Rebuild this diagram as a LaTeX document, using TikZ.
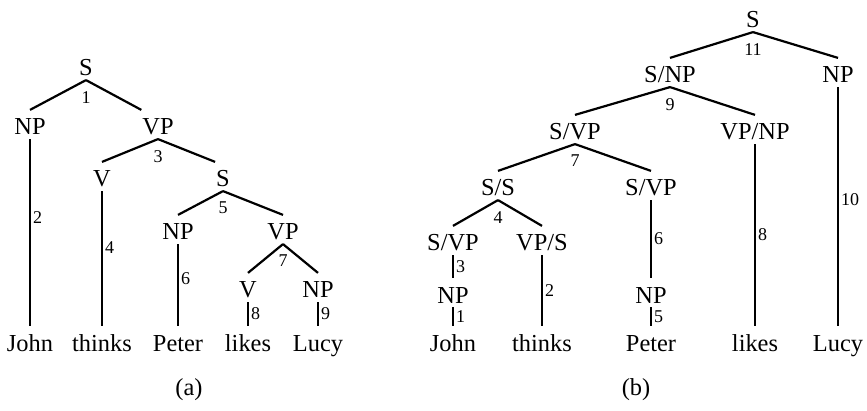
\documentclass[tikz,border=0pt]{standalone}
\usepackage{fontspec}
\setmainfont{Liberation Serif}

\tikzset{
  cat/.style={anchor=base, inner xsep=0pt, inner ysep=1.5pt,
    text height=10.5pt, text depth=0pt, font=\fontsize{12.2}{14}\selectfont},
  num/.style={inner sep=1pt, font=\fontsize{9}{10}\selectfont},
  sub/.style={label={[num, label distance=4pt]below:#1}},
  caption/.style={font=\fontsize{12.2}{14}\selectfont},
}

\begin{document}
\begin{tikzpicture}[x=0.5pt, y=-0.5pt, line width=1.1pt]
    \useasboundingbox (0,0) rectangle (867,411);

    % (a)
    \node[cat, sub=1] (Sa) at (86,76) {S};
    \node[cat] (NPa) at (30,135) {NP};
    \node[cat, sub=3] (VPa) at (158,135) {VP};
    \node[cat] (Va) at (102,187) {V};
    \node[cat, sub=5] (SSa) at (223,187) {S};
    \node[cat] (NPPa) at (178,240) {NP};
    \node[cat, sub=7] (VVPa) at (283,240) {VP};
    \node[cat] (VVa) at (248,298) {V};
    \node[cat] (NNPa) at (318,298) {NP};

    \node[cat] (Johna) at (30,351) {John};
    \node[cat] (thinksa) at (102,351) {thinks};
    \node[cat] (Petera) at (178,351) {Peter};
    \node[cat] (likesa) at (248,351) {likes};
    \node[cat] (Lucya) at (318,351) {Lucy};

    \draw (Sa.south) -- (NPa.north);
    \draw (Sa.south) -- (VPa.north west);
    \draw (VPa.south) -- (Va.north);
    \draw (VPa.south) -- (SSa.north west);
    \draw (SSa.south) -- (NPPa.north);
    \draw (SSa.south) -- (VVPa.north);
    \draw (VVPa.south) -- (VVa.north);
    \draw (VVPa.south) -- (NNPa.north);
    \draw (NPa.south) -- (Johna.north) node[num, pos=0.42, right] {2};
    \draw (Va.south) -- (thinksa.north) node[num, pos=0.42, right] {4};
    \draw (NPPa.south) -- (Petera.north) node[num, pos=0.42, right] {6};
    \draw (VVa.south) -- (likesa.north) node[num, midway, right] {8};
    \draw (NNPa.south) -- (Lucya.north) node[num, midway, right] {9};

    \node[caption] (capa) at (189,390) {(a)};

    % (b)
    \node[cat, sub=11] (Sb) at (753,28) {S};
    \node[cat, sub=9] (SNPb) at (670,83) {S/NP};
    \node[cat] (NPb) at (838,83) {NP};
    \node[cat, sub=7] (SVPb) at (575,140) {S/VP};
    \node[cat] (VPNPb) at (755,140) {VP/NP};
    \node[cat, sub=4] (SSb) at (498,196) {S/S};
    \node[cat] (SVPPb) at (651,196) {S/VP};
    \node[cat] (SVPPPb) at (453,251) {S/VP};
    \node[cat] (VPSb) at (542,251) {VP/S};
    \node[cat] (NPJb) at (453,303) {NP};
    \node[cat] (NPPb) at (651,303) {NP};

    \node[cat] (Johnb) at (453,351) {John};
    \node[cat] (thinksb) at (542,351) {thinks};
    \node[cat] (Peterb) at (651,351) {Peter};
    \node[cat] (likesb) at (755,351) {likes};
    \node[cat] (Lucyb) at (838,351) {Lucy};

    \draw (Sb.south) -- (SNPb.north);
    \draw (Sb.south) -- (NPb.north);
    \draw (SNPb.south) -- (SVPb.north);
    \draw (SNPb.south) -- (VPNPb.north);
    \draw (SVPb.south) -- (SSb.north);
    \draw (SVPb.south) -- (SVPPb.north);
    \draw (SSb.south) -- (SVPPPb.north);
    \draw (SSb.south) -- (VPSb.north);
    \draw (NPb.south) -- (Lucyb.north) node[num, pos=0.47, right] {10};
    \draw (VPNPb.south) -- (likesb.north) node[num, midway, right] {8};
    \draw (SVPPb.south) -- (NPPb.north) node[num, midway, right] {6};
    \draw (NPPb.south) -- (Peterb.north) node[num, midway, right] {5};
    \draw (SVPPPb.south) -- (NPJb.north) node[num, midway, right] {3};
    \draw (NPJb.south) -- (Johnb.north) node[num, midway, right] {1};
    \draw (VPSb.south) -- (thinksb.north) node[num, midway, right] {2};

    \node[caption] (capb) at (636,390) {(b)};
\end{tikzpicture}
\end{document}
